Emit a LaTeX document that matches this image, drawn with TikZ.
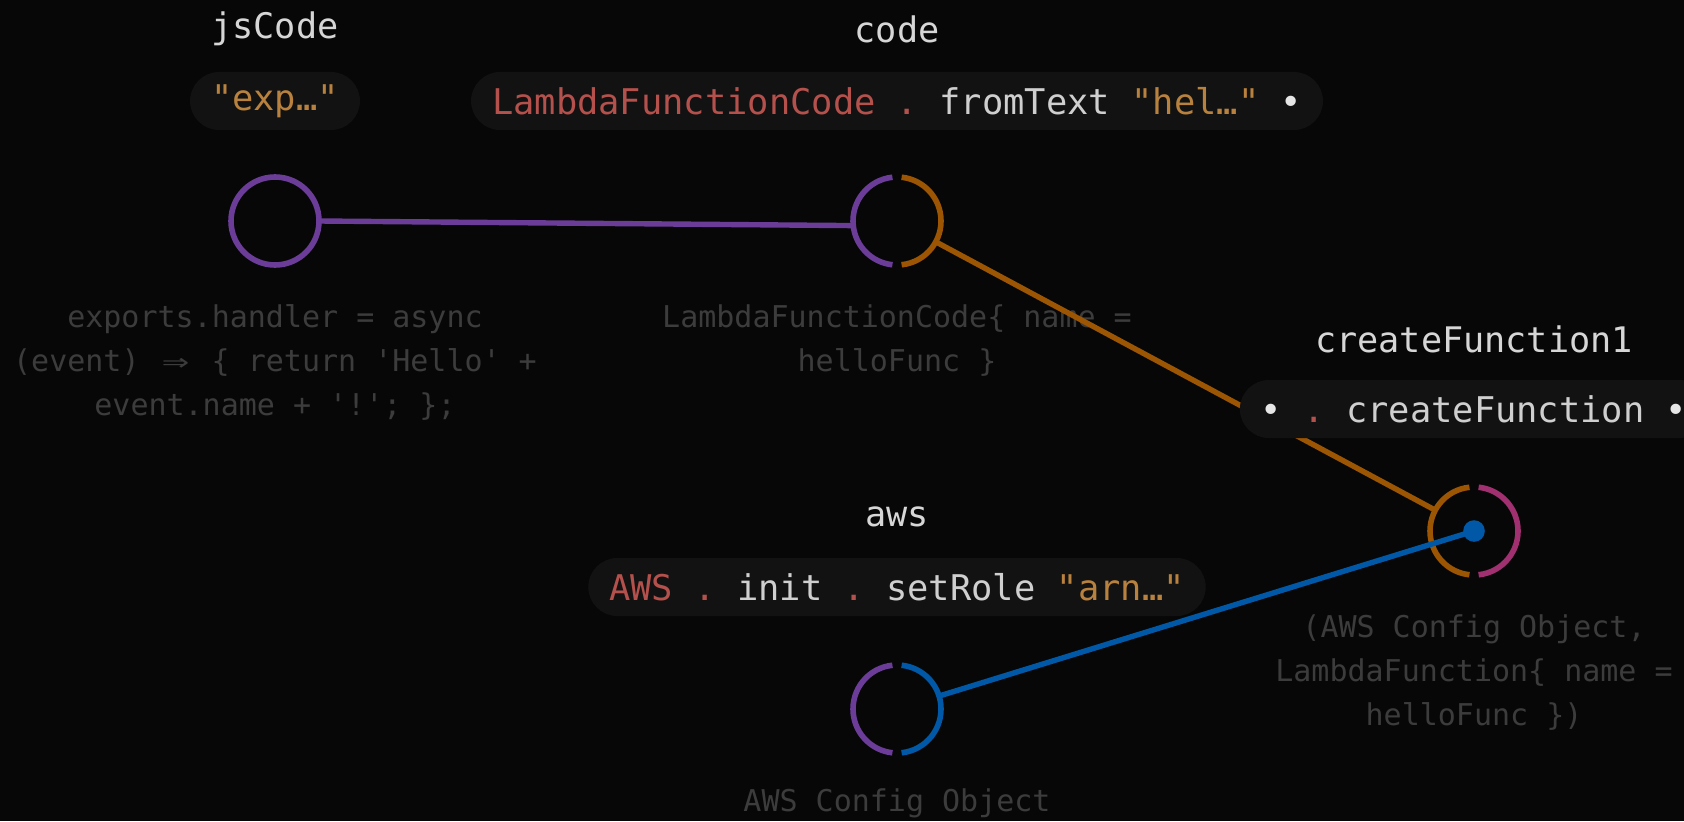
\documentclass[tikz,border=0pt]{standalone}
\usepackage{fontspec}
\setmonofont{DejaVu Sans Mono}
\usetikzlibrary{positioning}

\definecolor{bgcol}{HTML}{070707}
\definecolor{pillcol}{HTML}{121212}
\definecolor{titlecol}{HTML}{D6D6D6}
\definecolor{plaincol}{HTML}{CFCFCF}
\definecolor{desccol}{HTML}{3C3C3C}
\definecolor{kwcol}{HTML}{B4514C}
\definecolor{strcol}{HTML}{B8823E}
\definecolor{dotcol}{HTML}{E6E6E6}
\definecolor{purp}{HTML}{6B3D98}
\definecolor{orng}{HTML}{9B5503}
\definecolor{blu}{HTML}{0058A6}
\definecolor{magn}{HTML}{A0306F}

\begin{document}
\begin{tikzpicture}[%
    x=0.5pt, y=0.5pt,
    on grid,
    port/.style={circle, minimum size=44pt, inner sep=0pt, outer sep=0pt},
    ring/.style={line width=2.8pt},
    wire/.style={line width=2.7pt},
    title/.style={font=\ttfamily\fontsize{17.6}{20}\selectfont, text=titlecol},
    pill/.style={fill=pillcol, rounded corners=14.5pt, minimum height=29pt,
        inner xsep=10.5pt, font=\ttfamily\fontsize{17.7}{20}\selectfont, text=plaincol},
    desc/.style={font=\ttfamily\fontsize{15}{22}\selectfont, text=desccol, align=center}
    ]
    \fill[bgcol] (0,0) rectangle (1684,821);
    \useasboundingbox (0,0) rectangle (1684,821);

    % ports
    \node[port, draw=purp, ring] (jscode)   at (275,600)  {};
    \node[port]                  (code)     at (897,600)  {};
    \node[port]                  (createfn) at (1474,290) {};
    \node[port]                  (aws)      at (897,112)  {};

    \draw[ring, purp] (code.96) arc[start angle=96, end angle=264, radius=22pt];
    \draw[ring, orng] (code.-84) arc[start angle=-84, end angle=84, radius=22pt];
    \draw[ring, orng] (createfn.96) arc[start angle=96, end angle=264, radius=22pt];
    \draw[ring, magn] (createfn.-84) arc[start angle=-84, end angle=84, radius=22pt];
    \draw[ring, purp] (aws.96) arc[start angle=96, end angle=264, radius=22pt];
    \draw[ring, blu] (aws.-84) arc[start angle=-84, end angle=84, radius=22pt];

    % values
    \node[desc, below=70.5pt of jscode] (jsval) {exports.handler = async\\(event) \makebox[18pt]{\scalebox{1.5}[1]{⇒}} \{ return 'Hello' +\\event.name + '!'; \};};
    \node[desc, below=60pt of code] (codeval) {LambdaFunctionCode\{ name =\\helloFunc \}};
    \node[desc, below=71pt of createfn] (createval) {(AWS Config Object,\\LambdaFunction\{ name =\\helloFunc \})};
    \node[desc, below=47pt of aws] (awsval) {AWS Config Object};

    % wires
    \draw[wire, purp] (jscode.east) -- (code.186);
    \draw[wire, orng] (code) -- (createfn);
    \draw[wire, blu] (aws) -- (createfn.center);
    \fill[blu] (createfn) circle[radius=5.4pt];

    % expressions
    \node[pill, above=60pt of jscode] (jsexpr) {\textcolor{strcol}{"exp…"}};
    \node[pill, above=60pt of code] (codeexpr) {\textcolor{kwcol}{LambdaFunctionCode .} fromText \textcolor{strcol}{"hel…"} \textcolor{dotcol}{•}};
    \node[pill, above=61pt of createfn] (createexpr) {\textcolor{dotcol}{•} \textcolor{kwcol}{.} createFunction \textcolor{dotcol}{•}};
    \node[pill, above=61pt of aws] (awsexpr) {\textcolor{kwcol}{AWS .} init \textcolor{kwcol}{.} setRole \textcolor{strcol}{"arn…"}};

    % names
    \node[title, above=96pt of jscode] (jsname) {jsCode};
    \node[title, above=96pt of code] (codename) {code};
    \node[title, above=96pt of createfn] (createname) {createFunction1};
    \node[title, above=96pt of aws] (awsname) {aws};
\end{tikzpicture}
\end{document}
